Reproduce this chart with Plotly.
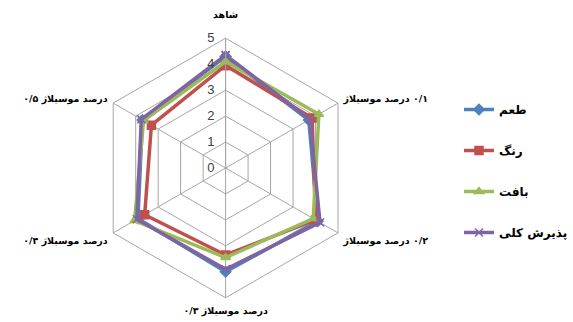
import plotly.graph_objects as go

# Sensory scores per treatment (0-5 scale)
RLI, PDI = "\u2067", "\u2069"
categories = ["شاهد<br>\u00a0",
              RLI + "۰/۱ درصد موسیلاژ" + PDI,
              RLI + "۰/۲ درصد موسیلاژ" + PDI,
              "۰/۳ درصد موسیلاژ",
              "۰/۴ درصد موسیلاژ",
              "۰/۵ درصد موسیلاژ"]
taste = [4.3, 3.7, 4.1, 4.0, 3.9, 3.7]          # طعم
color = [3.95, 3.85, 4.0, 3.35, 3.6, 3.3]       # رنگ
texture = [4.1, 4.15, 3.9, 3.45, 4.05, 3.65]    # بافت
overall = [4.35, 3.75, 4.2, 3.9, 3.95, 3.75]    # پذیرش کلی
series_names = ["طعم", "رنگ", "بافت", "پذیرش کلی"]
radial_ticks = [0, 1, 2, 3, 4, 5]

series = [
    (series_names[0], taste, "#4F81BD", "diamond"),
    (series_names[1], color, "#C0504D", "square"),
    (series_names[2], texture, "#9BBB59", "triangle-up"),
    (series_names[3], overall, "#8064A2", "x-thin"),
]

fig = go.Figure()
for i, (name, vals, col, sym) in enumerate(series):
    fig.add_trace(go.Scatterpolar(
        r=vals + vals[:1],
        theta=categories + categories[:1],
        mode="lines+markers",
        name=name,
        legendgroup=f"g{i}",
        line=dict(color=col, width=3.5),
        marker=dict(symbol=sym, size=8, color=col,
                    line=dict(color=col, width=1.5)),
    ))

W, H = 573, 322
cx, cy, R = 226, 168, 130
grid_col = "#A6A6A6"

fig.update_layout(
    width=W, height=H,
    margin=dict(l=0, r=0, t=0, b=0),
    paper_bgcolor="white",
    font=dict(family="DejaVu Sans", color="#000000"),
    polar=dict(
        domain=dict(x=[(cx - R) / W, (cx + R) / W],
                    y=[(H - cy - R) / H, (H - cy + R) / H]),
        gridshape="linear",
        bgcolor="white",
        radialaxis=dict(
            range=[0, 5], tickvals=radial_ticks, angle=90, tickangle=90,
            side="counterclockwise",
            showline=True, linecolor=grid_col, linewidth=1,
            gridcolor=grid_col, gridwidth=1,
            ticks="outside", ticklen=6, tickcolor="rgba(0,0,0,0)",
            tickfont=dict(size=13, color="#404040", family="Liberation Sans"),
        ),
        angularaxis=dict(
            rotation=90, direction="clockwise",
            showline=True, linecolor=grid_col, linewidth=1,
            gridcolor=grid_col, gridwidth=1,
            ticks="outside", ticklen=4, tickcolor="rgba(0,0,0,0)",
            tickfont=dict(size=9.5, color="#000000", family="DejaVu Sans", weight="bold"),
        ),
    ),
    legend=dict(
        x=460 / W, y=(H - 95) / H, xanchor="left", yanchor="top",
        traceorder="grouped", tracegroupgap=22,
        font=dict(size=12, family="DejaVu Sans", weight="bold", color="#000000"),
        bgcolor="rgba(0,0,0,0)",
    ),
)

fig.write_html("out.html")
